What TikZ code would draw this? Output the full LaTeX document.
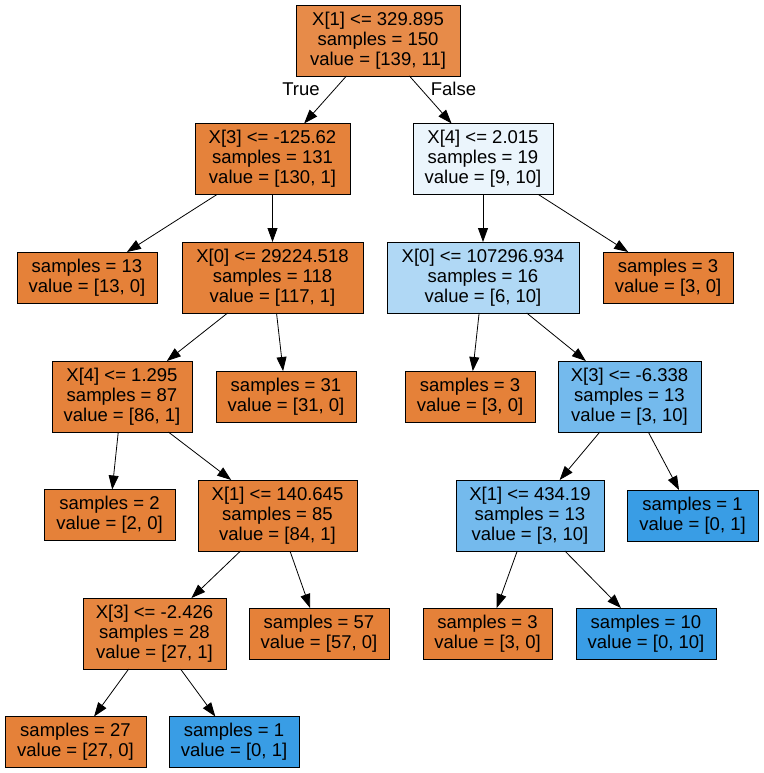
\documentclass[tikz,border=0pt]{standalone}
\usepackage{fontspec}
\setmainfont{Liberation Sans}
\usetikzlibrary{arrows.meta}
\definecolor{orgfull}{HTML}{E58139}
\definecolor{orgroot}{HTML}{E78B49}
\definecolor{orgdeep}{HTML}{E5823B}
\definecolor{orgmid}{HTML}{E68640}
\definecolor{bluefull}{HTML}{399DE5}
\definecolor{bluepale}{HTML}{EBF5FC}
\definecolor{bluelight}{HTML}{B0D8F5}
\definecolor{bluemid}{HTML}{74BAED}
\tikzset{
  treebox/.style={draw=black, line width=0.9pt, rectangle, align=center,
    inner xsep=2pt, inner ysep=0pt, outer sep=0pt,
    font=\fontsize{18.5}{20}\selectfont},
  split/.style={treebox, minimum height=71pt},
  leaf/.style={treebox, minimum height=51pt},
  link/.style={line width=0.8pt, -{Triangle[length=14pt,width=10pt]}},
  branchlabel/.style={font=\fontsize{18.5}{20}\selectfont, inner sep=0pt}
}
\begin{document}
\begin{tikzpicture}[x=1pt,y=-1pt]
\useasboundingbox (0,0) rectangle (763,773);
% level 0
\node[split, fill=orgroot, minimum width=164pt] (root) at (378,40.5) {X[1] <= 329.895\\samples = 150\\value = [139, 11]};
% level 1
\node[split, fill=orgdeep, minimum width=155pt] (a) at (272.5,159) {X[3] <= -125.62\\samples = 131\\value = [130, 1]};
\node[split, fill=bluepale, minimum width=140pt] (b) at (483,159) {X[4] <= 2.015\\samples = 19\\value = [9, 10]};
% level 2
\node[leaf, fill=orgfull, minimum width=140pt] (aa) at (87,277.5) {samples = 13\\value = [13, 0]};
\node[split, fill=orgdeep, minimum width=181pt] (ab) at (272.5,277.5) {X[0] <= 29224.518\\samples = 118\\value = [117, 1]};
\node[split, fill=bluelight, minimum width=192pt] (ba) at (483,277.5) {X[0] <= 107296.934\\samples = 16\\value = [6, 10]};
\node[leaf, fill=orgfull, minimum width=130pt] (bb) at (668,277.5) {samples = 3\\value = [3, 0]};
% level 3
\node[split, fill=orgdeep, minimum width=140pt] (aba) at (122,396.5) {X[4] <= 1.295\\samples = 87\\value = [86, 1]};
\node[leaf, fill=orgfull, minimum width=140pt] (abb) at (286,396.5) {samples = 31\\value = [31, 0]};
\node[leaf, fill=orgfull, minimum width=130pt] (baa) at (470,396.5) {samples = 3\\value = [3, 0]};
\node[split, fill=bluemid, minimum width=143pt] (bab) at (629.5,396.5) {X[3] <= -6.338\\samples = 13\\value = [3, 10]};
% level 4
\node[leaf, fill=orgfull, minimum width=131pt] (abaa) at (109.5,515) {samples = 2\\value = [2, 0]};
\node[split, fill=orgdeep, minimum width=159pt] (abab) at (277.5,515.5) {X[1] <= 140.645\\samples = 85\\value = [84, 1]};
\node[split, fill=bluemid, minimum width=148pt] (baba) at (530,515.5) {X[1] <= 434.19\\samples = 13\\value = [3, 10]};
\node[leaf, fill=bluefull, minimum width=131pt] (babb) at (692.5,515.5) {samples = 1\\value = [0, 1]};
% level 5
\node[split, fill=orgmid, minimum width=143pt] (ababa) at (154.5,633.5) {X[3] <= -2.426\\samples = 28\\value = [27, 1]};
\node[leaf, fill=orgfull, minimum width=140pt] (ababb) at (319,633.5) {samples = 57\\value = [57, 0]};
\node[leaf, fill=orgfull, minimum width=129pt] (babaa) at (487.5,633.5) {samples = 3\\value = [3, 0]};
\node[leaf, fill=bluefull, minimum width=140pt] (babab) at (646,633.5) {samples = 10\\value = [0, 10]};
% level 6
\node[leaf, fill=orgfull, minimum width=141pt] (ababaa) at (75.5,742) {samples = 27\\value = [27, 0]};
\node[leaf, fill=bluefull, minimum width=130pt] (ababab) at (234,742) {samples = 1\\value = [0, 1]};
% branches
\draw[link] (root) -- (a);
\draw[link] (root) -- (b);
\draw[link] (a) -- (aa);
\draw[link] (a) -- (ab);
\draw[link] (b) -- (ba);
\draw[link] (b) -- (bb);
\draw[link] (ab) -- (aba);
\draw[link] (ab) -- (abb);
\draw[link] (ba) -- (baa);
\draw[link] (ba) -- (bab);
\draw[link] (aba) -- (abaa);
\draw[link] (aba) -- (abab);
\draw[link] (bab) -- (baba);
\draw[link] (bab) -- (babb);
\draw[link] (abab) -- (ababa);
\draw[link] (abab) -- (ababb);
\draw[link] (baba) -- (babaa);
\draw[link] (baba) -- (babab);
\draw[link] (ababa) -- (ababaa);
\draw[link] (ababa) -- (ababab);
% branch labels under the root
\node[branchlabel] (truelbl) at (301,89) {True};
\node[branchlabel] (falselbl) at (453.5,89) {False};
\end{tikzpicture}
\end{document}
